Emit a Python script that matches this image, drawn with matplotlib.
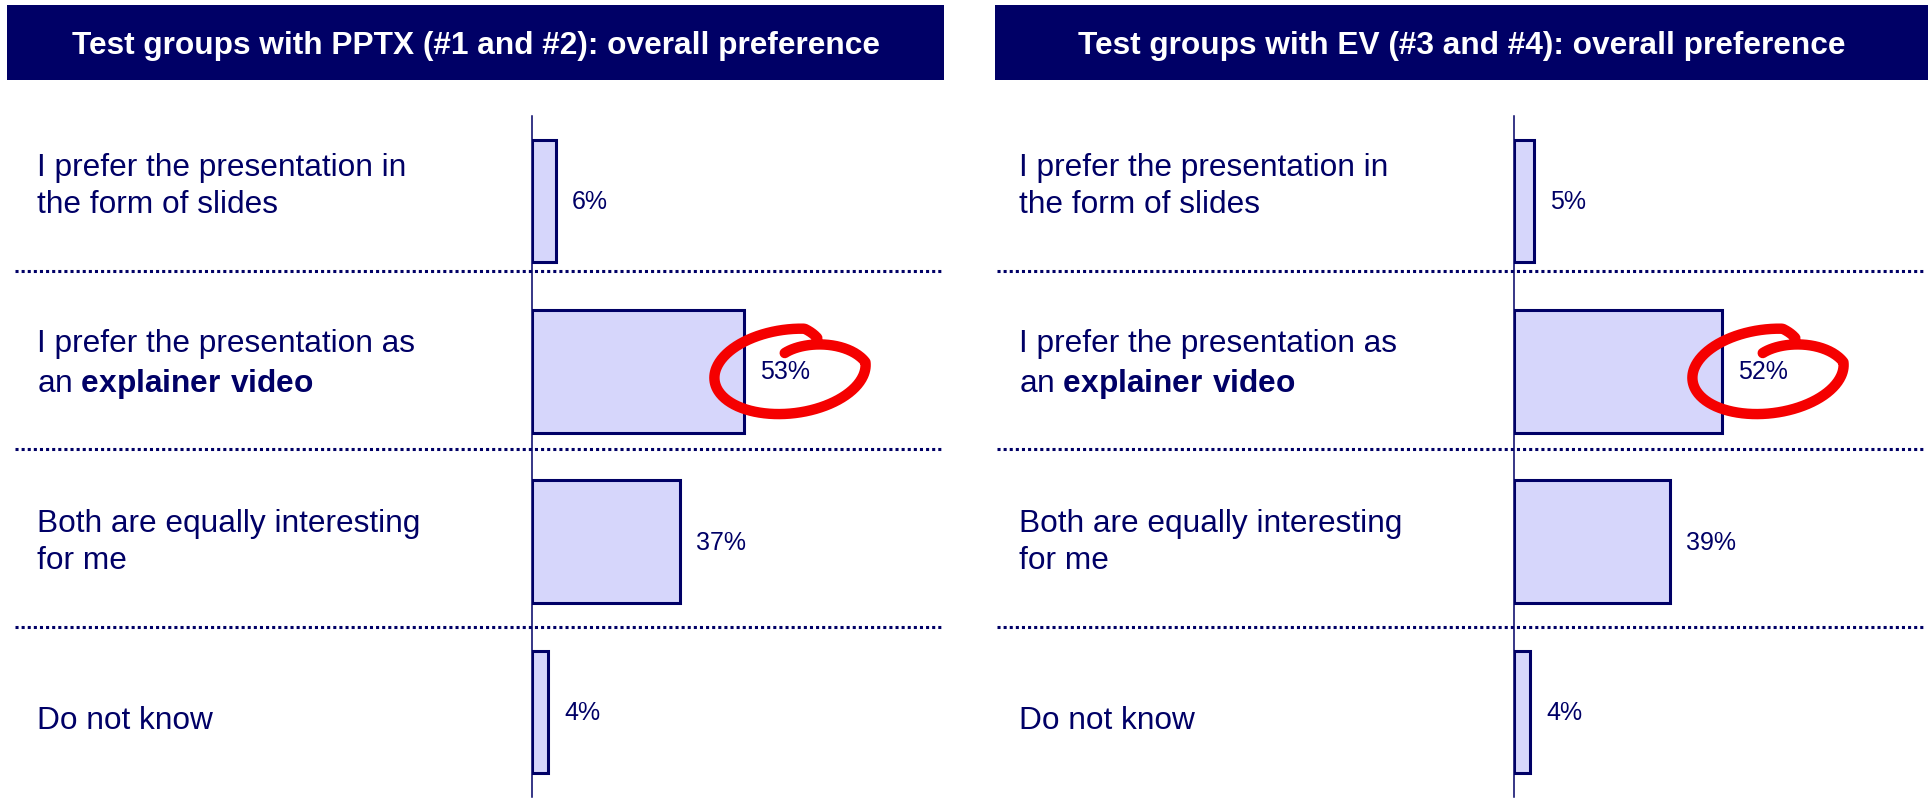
import numpy as np
import matplotlib
matplotlib.use("Agg")
import matplotlib.pyplot as plt

plt.rcParams['font.family'] = ['Liberation Sans', 'DejaVu Sans']
plt.rcParams['mathtext.fontset'] = 'custom'
plt.rcParams['mathtext.rm'] = 'Liberation Sans'
plt.rcParams['mathtext.bf'] = 'Liberation Sans:bold'

# data
titles = ['Test groups with PPTX (#1 and #2): overall preference',
          'Test groups with EV (#3 and #4): overall preference']
answers = ['I prefer the presentation in\nthe form of slides',
           'I prefer the presentation as\nan $\\mathbf{explainer\\ video}$',
           'Both are equally interesting\nfor me',
           'Do not know']
pptx_share = [6, 53, 37, 4]
ev_share = [5, 52, 39, 4]
highlight = 1  # the explainer video row is circled

NAVY = '#000066'
FILL = '#d6d6fb'
RED = '#f50000'

W, H = 1930, 804
fig = plt.figure(figsize=(W / 100, H / 100), dpi=100)


def box(left, top, right, bottom):
    # pixel box -> figure fractions
    return [left / W, 1 - bottom / H, (right - left) / W, (bottom - top) / H]


def loop(ax, xc, yc):
    # hand drawn red circle, a bit more than one turn, in pixel units
    phi = np.radians(np.linspace(95, -300, 300))
    s = np.ones_like(phi)
    start = phi > 0
    s[start] = 1 - 0.55 * phi[start] / np.radians(95)
    end = phi < np.radians(-285)
    s[end] = 1 - 0.18 * (np.radians(-285) - phi[end]) / np.radians(15)
    a, b, tilt = 76, 42, np.radians(7)
    x = a * s * np.cos(phi)
    y = b * s * np.sin(phi)
    xr = x * np.cos(tilt) - y * np.sin(tilt)
    yr = x * np.sin(tilt) + y * np.cos(tilt)
    ax.plot(xc + xr / 4, yc - yr / 170.25, color=RED, lw=7.5,
            solid_capstyle='round', solid_joinstyle='round', clip_on=False, zorder=6)


def panel(off, tleft, tright, title, values):
    # title bar
    tax = fig.add_axes(box(tleft, 6, tright, 81))
    tax.set_facecolor(NAVY)
    tax.set_xticks([])
    tax.set_yticks([])
    for sp in tax.spines.values():
        sp.set_visible(False)
    tax.text(0.5, 0.47, title, color='white', fontsize=22.8, fontweight='bold',
             ha='center', va='center', transform=tax.transAxes)

    # labels and dotted separators
    lax = fig.add_axes(box(15 + off, 94, 943 + off, 806))
    lax.set_xlim(0, 1)
    lax.set_ylim(len(answers) - 0.5, -0.5)
    lax.axis('off')
    for i in range(len(answers) - 1):
        lax.axhline(i + 0.5, color=NAVY, lw=2.2, ls=(0, (1, 1)))
    for i, lab in enumerate(answers):
        lax.text(0.0237, i + 0.02, lab, color=NAVY, fontsize=22.8, ha='left', va='center',
                 linespacing=1.32)

    # bars
    ax = fig.add_axes(box(532 + off, 117, 932 + off, 798))
    ax.set_xlim(0, 100)
    ax.set_ylim(len(values) - 0.5, -0.5)
    ax.patch.set_alpha(0)
    for k, sp in ax.spines.items():
        sp.set_visible(k == 'left')
    ax.spines['left'].set_color(NAVY)
    ax.spines['left'].set_linewidth(1.1)
    ax.set_xticks([])
    ax.set_yticks([])
    ax.barh(range(len(values)), values, height=0.72, color=FILL,
            edgecolor=NAVY, linewidth=2.2, zorder=3)
    for i, v in enumerate(values):
        ax.text(v + 4, i, f'{v}%', color=NAVY, fontsize=18, ha='left', va='center', zorder=7)
    loop(ax, values[highlight] + 11.5, highlight)


panel(0, 7, 944, titles[0], pptx_share)
panel(982, 995, 1928, titles[1], ev_share)

fig.savefig('out.png', dpi=100, facecolor='white')
